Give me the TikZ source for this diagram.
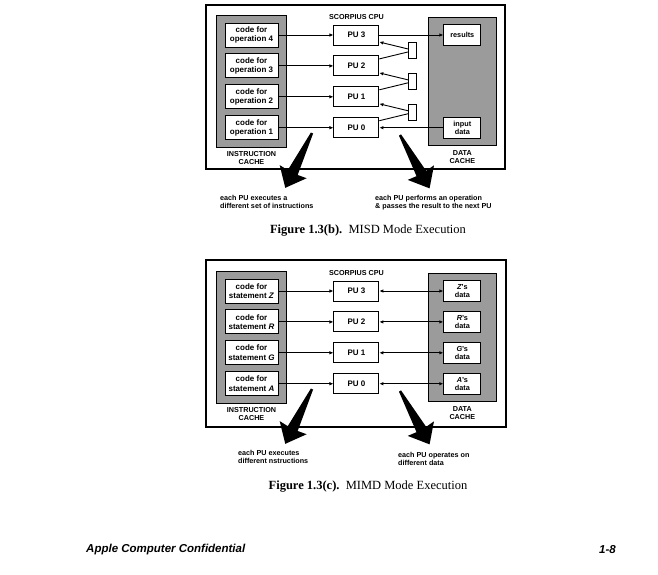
\documentclass[tikz,border=0pt]{standalone}
\usepackage{fontspec}
\setmainfont{Liberation Serif}
\setsansfont{Liberation Sans}
\usetikzlibrary{positioning}
\usetikzlibrary{arrows.meta}
\usetikzlibrary{fit}
\usetikzlibrary{calc}
\usetikzlibrary{backgrounds}
\definecolor{figCache}{RGB}{155,155,155}
\tikzset{
  codigo/.style={
    rectangle, draw=black, line width=0.9pt, fill=white,
    minimum width=53pt, minimum height=24pt, align=center, inner sep=1pt,
    font=\sffamily\bfseries\fontsize{8}{9.5}\selectfont
  },
  unidad/.style={
    rectangle, draw=black, line width=0.9pt, fill=white,
    minimum width=45pt, minimum height=20pt, inner sep=1pt,
    font=\sffamily\bfseries\fontsize{8}{9.5}\selectfont
  },
  dato/.style={
    rectangle, draw=black, line width=0.9pt, fill=white,
    minimum width=37pt, minimum height=21pt, align=center, inner sep=1pt,
    font=\sffamily\bfseries\fontsize{7.3}{8.3}\selectfont
  },
  registro/.style={
    rectangle, draw=black, line width=0.8pt, fill=white,
    minimum width=8pt, minimum height=16pt, inner sep=0pt
  },
  cache/.style={rectangle, draw=black, line width=0.7pt, fill=figCache, inner sep=0pt},
  marco/.style={draw=black, line width=1.1pt},
  etiqueta/.style={align=center, inner sep=1pt, font=\sffamily\bfseries\fontsize{7.2}{8.2}\selectfont},
  nota/.style={align=left, anchor=north west, inner sep=0pt, font=\sffamily\bfseries\fontsize{7.2}{8.5}\selectfont},
  leyenda/.style={inner sep=0pt, font=\fontsize{12.5}{14}\selectfont},
  pie/.style={inner sep=0pt, font=\sffamily\bfseries\itshape\fontsize{11.5}{13}\selectfont},
  flecha/.style={-{Latex[length=4pt,width=3.5pt]}, line width=0.9pt},
  flechad/.style={{Latex[length=4pt,width=3.5pt]}-{Latex[length=4pt,width=3.5pt]}, line width=0.9pt},
  linea/.style={line width=0.9pt},
  gruesa/.pic={\fill (-1.2,0) -- (-5.5,-44) -- (-15,-43) -- (0,-61) -- (15,-43) -- (5.5,-44) -- (1.2,0) -- cycle;}
}
\begin{document}
\begin{tikzpicture}[x=1pt, y=1pt]
  \useasboundingbox (0,0) rectangle (658,-574);

  % Figure 1.3(b)
  \draw[marco] (206,-5) rectangle (505,-169);
  \node[codigo] (codb4) at (251.5,-35) {code for\\operation 4};
  \node[codigo, below=6pt of codb4] (codb3) {code for\\operation 3};
  \node[codigo, below=6pt of codb3] (codb2) {code for\\operation 2};
  \node[codigo, below=6pt of codb2] (codb1) {code for\\operation 1};
  \node[unidad, right=55pt of codb4] (pub3) {PU 3};
  \node[unidad, right=55pt of codb3] (pub2) {PU 2};
  \node[unidad, right=55pt of codb2] (pub1) {PU 1};
  \node[unidad, right=55pt of codb1] (pub0) {PU 0};
  \node[dato, right=64pt of pub3] (resb) {results};
  \node[dato, right=64pt of pub0] (inpb) {input\\data};
  \node[registro] (regb3) at ($(pub3.east)!0.5!(pub2.east) + (33,0)$) {};
  \node[registro] (regb2) at ($(pub2.east)!0.5!(pub1.east) + (33,0)$) {};
  \node[registro] (regb1) at ($(pub1.east)!0.5!(pub0.east) + (33,0)$) {};
  \begin{scope}[on background layer]
    \node[cache, fit=(codb4) (codb1), inner xsep=8pt, inner ysep=7pt] (icb) {};
    \node[cache, fit=(resb) (inpb), inner xsep=15pt, inner ysep=7pt] (dcb) {};
  \end{scope}
  \node[etiqueta, above=4pt of pub3] (cpub) {SCORPIUS CPU};
  \node[etiqueta, below=3pt of icb] (icbl) {INSTRUCTION\\CACHE};
  \node[etiqueta, below=3pt of dcb] (dcbl) {DATA\\CACHE};

  \draw[flecha] (codb4.east) -- (pub3.west);
  \draw[flecha] (codb3.east) -- (pub2.west);
  \draw[flecha] (codb2.east) -- (pub1.west);
  \draw[flecha] (codb1.east) -- (pub0.west);
  \draw[flecha] (pub3.east) -- (resb.west);
  \draw[flecha] (inpb.west) -- (pub0.east);
  \draw[linea] ($(pub2.east)+(0,7)$) -- ($(regb3.west)+(0,-1.5)$);
  \draw[flecha] ($(regb3.west)+(0,1.5)$) -- ($(pub3.east)+(0,-7)$);
  \draw[linea] ($(pub1.east)+(0,7)$) -- ($(regb2.west)+(0,-1.5)$);
  \draw[flecha] ($(regb2.west)+(0,1.5)$) -- ($(pub2.east)+(0,-7)$);
  \draw[linea] ($(pub0.east)+(0,7)$) -- ($(regb1.west)+(0,-1.5)$);
  \draw[flecha] ($(regb1.west)+(0,1.5)$) -- ($(pub1.east)+(0,-7)$);

  \pic[rotate=-26] (gruesab1) at (312,-133) {gruesa};
  \pic[rotate=29] (gruesab2) at (400,-135) {gruesa};
  \node[nota] (notab1) at (220,-195) {each PU executes a\\different set of instructions};
  \node[nota] (notab2) at (375,-195) {each PU performs an operation\\\& passes the result to the next PU};
  \node[leyenda] (leyb) at (368,-231) {\textbf{Figure 1.3(b).}\enspace MISD Mode Execution};

  % Figure 1.3(c)
  \draw[marco] (206,-260) rectangle (506,-427);
  \node[codigo] (codc4) at (251.5,-291) {code for\\statement \textit{Z}};
  \node[codigo, below=6pt of codc4] (codc3) {code for\\statement \textit{R}};
  \node[codigo, below=6pt of codc3] (codc2) {code for\\statement \textit{G}};
  \node[codigo, below=6pt of codc2] (codc1) {code for\\statement \textit{A}};
  \node[unidad, right=55pt of codc4] (puc3) {PU 3};
  \node[unidad, right=55pt of codc3] (puc2) {PU 2};
  \node[unidad, right=55pt of codc2] (puc1) {PU 1};
  \node[unidad, right=55pt of codc1] (puc0) {PU 0};
  \node[dato, right=64pt of puc3] (datc3) {\textit{Z}'s\\data};
  \node[dato, right=64pt of puc2] (datc2) {\textit{R}'s\\data};
  \node[dato, right=64pt of puc1] (datc1) {\textit{G}'s\\data};
  \node[dato, right=64pt of puc0] (datc0) {\textit{A}'s\\data};
  \begin{scope}[on background layer]
    \node[cache, fit=(codc4) (codc1), inner xsep=8pt, inner ysep=7pt] (icc) {};
    \node[cache, fit=(datc3) (datc0), inner xsep=15pt, inner ysep=7pt] (dcc) {};
  \end{scope}
  \node[etiqueta, above=4pt of puc3] (cpuc) {SCORPIUS CPU};
  \node[etiqueta, below=3pt of icc] (iccl) {INSTRUCTION\\CACHE};
  \node[etiqueta, below=3pt of dcc] (dccl) {DATA\\CACHE};

  \draw[flecha] (codc4.east) -- (puc3.west);
  \draw[flecha] (codc3.east) -- (puc2.west);
  \draw[flecha] (codc2.east) -- (puc1.west);
  \draw[flecha] (codc1.east) -- (puc0.west);
  \draw[flechad] (datc3.west) -- (puc3.east);
  \draw[flechad] (datc2.west) -- (puc2.east);
  \draw[flechad] (datc1.west) -- (puc1.east);
  \draw[flechad] (datc0.west) -- (puc0.east);

  \pic[rotate=-26] (gruesac1) at (312,-389) {gruesa};
  \pic[rotate=29] (gruesac2) at (400,-391) {gruesa};
  \node[nota] (notac1) at (238,-450) {each PU executes\\different nstructions};
  \node[nota] (notac2) at (398,-452) {each PU operates on\\different data};
  \node[leyenda] (leyc) at (368,-487) {\textbf{Figure 1.3(c).}\enspace MIMD Mode Execution};

  % page footer
  \node[pie, anchor=west] (piepag) at (86,-550) {Apple Computer Confidential};
  \node[pie, anchor=east] (numpag) at (616,-550) {1-8};
\end{tikzpicture}
\end{document}
